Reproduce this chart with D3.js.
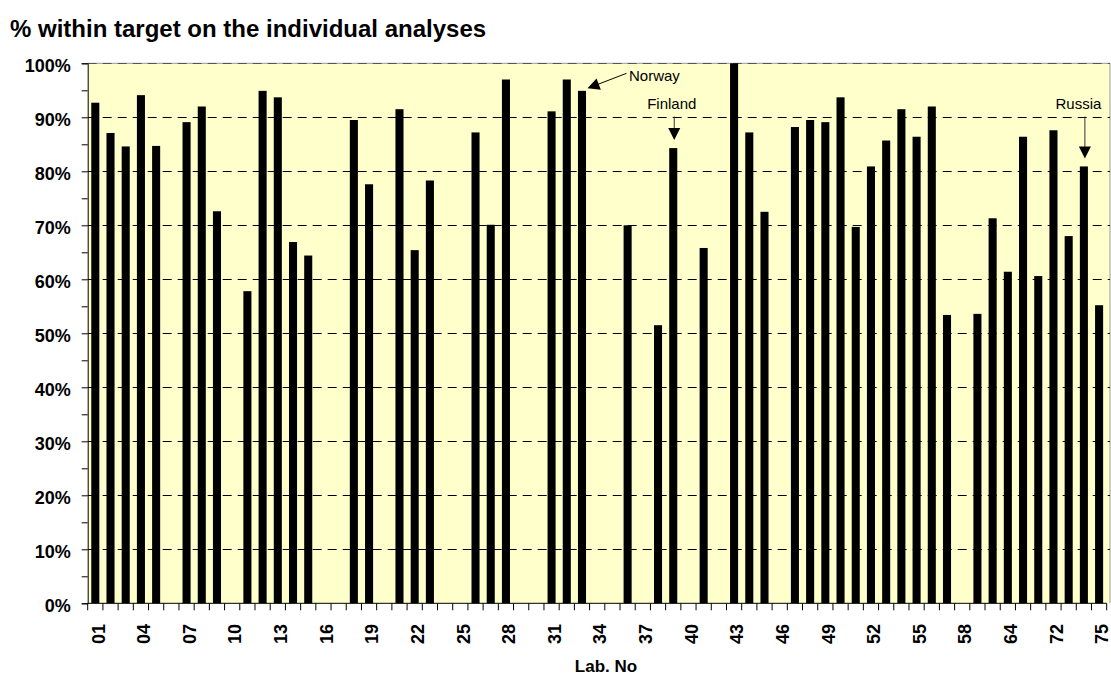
<!DOCTYPE html>
<html>
<head>
<meta charset="utf-8">
<script src="https://cdn.jsdelivr.net/npm/d3@7"></script>
<style>
  html, body { margin: 0; padding: 0; background: #fff; }
  svg { display: block; font-family: "Liberation Sans", Arial, sans-serif; }
</style>
</head>
<body>
<svg id="chart" width="1111" height="675"></svg>
<script>
// Laboratory numbers (one bar slot per participating lab)
const labs = [
  "01","02","03","04","05","06","07","08","09","10",
  "11","12","13","14","15","16","17","18","19","20",
  "21","22","23","24","25","26","27","28","29","30",
  "31","32","33","34","35","36","37","38","39","40",
  "41","42","43","44","45","46","47","48","49","50",
  "51","52","53","54","55","56","57","58","60","62",
  "64","66","69","72","73","74","75"
];

// Share of results within target, in percent (null = no result reported)
const withinTarget = [
  92.7, 87.1, 84.6, 94.1, 84.7, null, 89.1, 92.0, 72.6, null,
  57.8, 94.9, 93.7, 66.9, 64.4, null, null, 89.5, 77.6, null,
  91.5, 65.4, 78.3, null, null, 87.2, 70.1, 97.0, null, null,
  91.1, 97.0, 94.9, null, null, 70.0, null, 51.5, 84.3, null,
  65.8, null, 100.0, 87.2, 72.5, null, 88.2, 89.5, 89.1, 93.7,
  69.7, 80.9, 85.7, 91.5, 86.4, 92.0, 53.4, null, 53.6, 71.3,
  61.4, 86.4, 60.6, 87.6, 68.0, 80.9, 55.2
];

// Category labels printed under the axis (every third lab)
const tickLabels = ["01","04","07","10","13","16","19","22","25","28","31","34",
                    "37","40","43","46","49","52","55","58","64","72","75"];

// Percentage ticks on the value axis
const yMajorTicks = [0, 10, 20, 30, 40, 50, 60, 70, 80, 90, 100];
const yMinorTicks = [5, 15, 25, 35, 45, 55, 65, 75, 85, 95];

// Country labs that are called out
const calloutLabs = ["33", "39", "74"];
const calloutNames = ["Norway", "Finland", "Russia"];

const svg = d3.select("#chart");

const plot = { left: 87.7, right: 1106.7, top: 63.3, bottom: 603.3 };

const x = d3.scaleBand()
  .domain(labs)
  .range([plot.left, plot.right])
  .paddingInner(0.47)
  .paddingOuter(0.235);

const y = d3.scaleLinear()
  .domain([0, 100])
  .range([plot.bottom, plot.top]);

const data = labs.map((lab, i) => ({ lab, value: withinTarget[i] }));

// Title
svg.append("text")
  .attr("x", 10)
  .attr("y", 37)
  .attr("font-size", 24)
  .attr("font-weight", "bold")
  .attr("fill", "#000")
  .text("% within target on the individual analyses");

// Plot area background
svg.append("rect")
  .attr("x", plot.left)
  .attr("y", plot.top)
  .attr("width", 1110 - plot.left)
  .attr("height", plot.bottom - plot.top)
  .attr("fill", "#FFFFCC");

svg.append("line")
  .attr("x1", plot.left).attr("x2", 1110)
  .attr("y1", plot.top).attr("y2", plot.top)
  .attr("stroke", "#9a9a9a").attr("stroke-width", 1);
svg.append("line")
  .attr("x1", 1110).attr("x2", 1110)
  .attr("y1", plot.top).attr("y2", plot.bottom)
  .attr("stroke", "#9a9a9a").attr("stroke-width", 1);

// Dashed horizontal gridlines
svg.append("g")
  .selectAll("line")
  .data(yMajorTicks.filter(d => d > 0))
  .join("line")
  .attr("x1", plot.left)
  .attr("x2", 1110)
  .attr("y1", d => Math.round(y(d)) + 0.5)
  .attr("y2", d => Math.round(y(d)) + 0.5)
  .attr("stroke", d => d === 100 ? "#555" : "#000")
  .attr("stroke-width", 1)
  .attr("stroke-dasharray", "9,6");

// Bars
svg.append("g")
  .selectAll("rect")
  .data(data.filter(d => d.value !== null))
  .join("rect")
  .attr("x", d => x(d.lab))
  .attr("y", d => y(d.value))
  .attr("width", x.bandwidth())
  .attr("height", d => y(0) - y(d.value))
  .attr("fill", "#000");

// Value axis
const yAxis = svg.append("g")
  .attr("transform", `translate(${plot.left},0)`)
  .call(d3.axisLeft(y)
    .tickValues(yMajorTicks)
    .tickSize(6)
    .tickPadding(11)
    .tickFormat(d => d + "%"));
yAxis.select(".domain").attr("stroke", "#000");
yAxis.selectAll(".tick line").attr("stroke", "#000");
yAxis.selectAll("text")
  .attr("font-size", 18)
  .attr("font-weight", "bold")
  .attr("fill", "#000")
  .attr("dy", "0.45em")
  .attr("font-family", "Liberation Sans, Arial, sans-serif");

svg.append("g")
  .attr("transform", `translate(${plot.left},0)`)
  .call(d3.axisLeft(y).tickValues(yMinorTicks).tickSize(6).tickFormat(""))
  .call(g => g.select(".domain").remove())
  .selectAll(".tick line").attr("stroke", "#000");

// Category axis: line, tick marks between bars, every third label
const step = x.step();
const xAxis = svg.append("g");
xAxis.append("line")
  .attr("x1", plot.left).attr("x2", plot.right)
  .attr("y1", plot.bottom).attr("y2", plot.bottom)
  .attr("stroke", "#000");
xAxis.selectAll("line.tick")
  .data(d3.range(labs.length + 1))
  .join("line")
  .attr("class", "tick")
  .attr("x1", i => plot.left + i * step)
  .attr("x2", i => plot.left + i * step)
  .attr("y1", plot.bottom)
  .attr("y2", plot.bottom + 7)
  .attr("stroke", "#000");
xAxis.selectAll("text")
  .data(tickLabels)
  .join("text")
  .attr("transform", d => `translate(${x(d) + x.bandwidth() / 2},624) rotate(-90)`)
  .attr("text-anchor", "end")
  .attr("dy", 9.2)
  .attr("font-size", 18)
  .attr("font-weight", "bold")
  .attr("fill", "#000")
  .text(d => d);

// Axis title
svg.append("text")
  .attr("x", 606)
  .attr("y", 672)
  .attr("text-anchor", "middle")
  .attr("font-size", 17)
  .attr("font-weight", "bold")
  .attr("fill", "#000")
  .text("Lab. No");

// Callouts
function arrowHead(g, tipX, tipY, angle) {
  // triangle pointing along `angle` (radians) with its tip at (tipX, tipY)
  const len = 12, half = 6;
  const pts = [[0, 0], [-len, -half], [-len, half]].map(([px, py]) => [
    tipX + px * Math.cos(angle) - py * Math.sin(angle),
    tipY + px * Math.sin(angle) + py * Math.cos(angle)
  ]);
  g.append("path").attr("d", "M" + pts.join("L") + "Z").attr("fill", "#000");
}

const callouts = svg.append("g")
  .attr("font-size", 15)
  .attr("fill", "#000");

calloutLabs.forEach((lab, k) => {
  const idx = labs.indexOf(lab);
  const cx = x(lab) + x.bandwidth() / 2;
  const top = y(withinTarget[idx]);
  const name = calloutNames[k];
  if (name === "Norway") {
    const sx = cx + 44.5, sy = top - 17.5;
    const tx = cx + 5.5, ty = top - 2.5;
    const ang = Math.atan2(ty - sy, tx - sx);
    callouts.append("line")
      .attr("x1", sx).attr("y1", sy)
      .attr("x2", tx - 10 * Math.cos(ang)).attr("y2", ty - 10 * Math.sin(ang))
      .attr("stroke", "#000").attr("stroke-width", 1);
    arrowHead(callouts, tx, ty, ang);
    callouts.append("text")
      .attr("x", cx + 47)
      .attr("y", top - 10)
      .text(name);
  } else {
    const labelY = 109;
    const offset = name === "Russia" ? -5.5 : -1.5;
    callouts.append("text")
      .attr("x", cx + offset)
      .attr("y", labelY)
      .attr("text-anchor", "middle")
      .text(name);
    const tipY = top - 8;
    callouts.append("line")
      .attr("x1", cx + 1).attr("x2", cx + 1)
      .attr("y1", labelY + 7.5).attr("y2", tipY - 10)
      .attr("stroke", "#333").attr("stroke-width", 1);
    arrowHead(callouts, cx + 1, tipY, Math.PI / 2);
  }
});
</script>
</body>
</html>
